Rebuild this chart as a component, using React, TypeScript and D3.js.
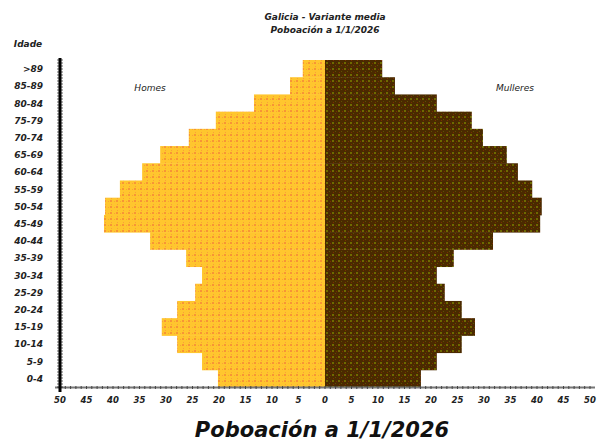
import React from "react";
import * as d3 from "d3";

const ageGroups = [">89", "85-89", "80-84", "75-79", "70-74", "65-69", "60-64", "55-59", "50-54", "45-49", "40-44", "35-39", "30-34", "25-29", "20-24", "15-19", "10-14", "5-9", "0-4"];
const homes = [4.2, 6.6, 13.4, 20.6, 25.7, 31.1, 34.5, 38.7, 41.5, 41.7, 33.0, 26.2, 23.2, 24.5, 27.9, 30.8, 27.9, 23.2, 20.2];
const mulleres = [10.8, 13.2, 21.1, 27.7, 29.8, 34.3, 36.4, 39.1, 40.9, 40.6, 31.7, 24.3, 21.1, 22.6, 25.8, 28.3, 25.8, 21.1, 18.1];
const xTicks = [-50, -45, -40, -35, -30, -25, -20, -15, -10, -5, 0, 5, 10, 15, 20, 25, 30, 35, 40, 45, 50];

const W = 599, H = 443;
const font = "'DejaVu Sans', sans-serif";

export default function App() {
  const x = d3.scaleLinear().domain([-50, 50]).range([60, 590]);
  const y = d3.scaleBand<string>().domain(ageGroups).range([60, 387]).padding(0);
  const minorTicks = d3.range(-50, 50.01, 1);
  const yMinor = d3.range(60, 388, 3);
  return (
    <svg width={W} height={H} style={{ position: "absolute", left: 0, top: 0, background: "#fff" }}>
      <defs>
        <pattern id="pY" width="6" height="6" patternUnits="userSpaceOnUse">
          <rect width="6" height="6" fill="#FFC62E" />
          <rect x="2" y="2" width="2" height="2" fill="#F79535" />
          <rect x="0" y="3" width="1" height="1" fill="#F9A03A" />
          <rect x="3" y="0" width="1" height="1" fill="#F9A03A" />
        </pattern>
        <pattern id="pB" width="6" height="6" patternUnits="userSpaceOnUse">
          <rect width="6" height="6" fill="#4A2A00" />
          <rect x="2" y="2" width="2" height="2" fill="#6E6A00" />
          <rect x="0" y="3" width="1" height="1" fill="#7A2E00" />
          <rect x="3" y="0" width="1" height="1" fill="#7A2E00" />
          <rect x="5" y="5" width="1" height="1" fill="#5E5200" />
        </pattern>
      </defs>
      <text x={325} y={20} textAnchor="middle" fontFamily={font} fontSize={9} fontWeight="bold" fontStyle="italic" fill="#222">Galicia - Variante media</text>
      <text x={325} y={33} textAnchor="middle" fontFamily={font} fontSize={9} fontWeight="bold" fontStyle="italic" fill="#222">Poboación a 1/1/2026</text>
      <text x={28} y={47} textAnchor="middle" fontFamily={font} fontSize={9} fontWeight="bold" fontStyle="italic" fill="#222">Idade</text>
      <text x={150} y={91} textAnchor="middle" fontFamily={font} fontSize={9} fontStyle="italic" fill="#222">Homes</text>
      <text x={515} y={91} textAnchor="middle" fontFamily={font} fontSize={9} fontStyle="italic" fill="#222">Mulleres</text>
      {ageGroups.map((g, i) => (
        <g key={g}>
          <rect x={x(-homes[i])} y={y(g)!} width={x(0) - x(-homes[i])} height={y.bandwidth() + 0.5} fill="url(#pY)" />
          <rect x={x(0)} y={y(g)!} width={x(mulleres[i]) - x(0)} height={y.bandwidth() + 0.5} fill="url(#pB)" />
          <text x={43} y={y(g)! + y.bandwidth() / 2 + 3.5} textAnchor="end" fontFamily={font} fontSize={9} fontWeight="bold" fontStyle="italic" fill="#222">{g}</text>
        </g>
      ))}
      <line x1={55} x2={595} y1={387.5} y2={387.5} stroke="#777" strokeWidth={2} />
      {minorTicks.map((t) => (
        <line key={t} x1={x(t)} x2={x(t)} y1={386} y2={389} stroke="#444" strokeWidth={1} />
      ))}
      {xTicks.map((t) => (
        <text key={t} x={x(t)} y={403} textAnchor="middle" fontFamily={font} fontSize={8.5} fontWeight="bold" fontStyle="italic" fill="#222">{Math.abs(t)}</text>
      ))}
      <line x1={60} x2={60} y1={58} y2={392} stroke="#000" strokeWidth={3} />
      {yMinor.map((v) => (
        <line key={v} x1={57} x2={63} y1={v} y2={v} stroke="#000" strokeWidth={0.6} />
      ))}
      <text x={322} y={437} textAnchor="middle" fontFamily={font} fontSize={21} fontWeight="bold" fontStyle="italic" fill="#111">Poboación a 1/1/2026</text>
    </svg>
  );
}
